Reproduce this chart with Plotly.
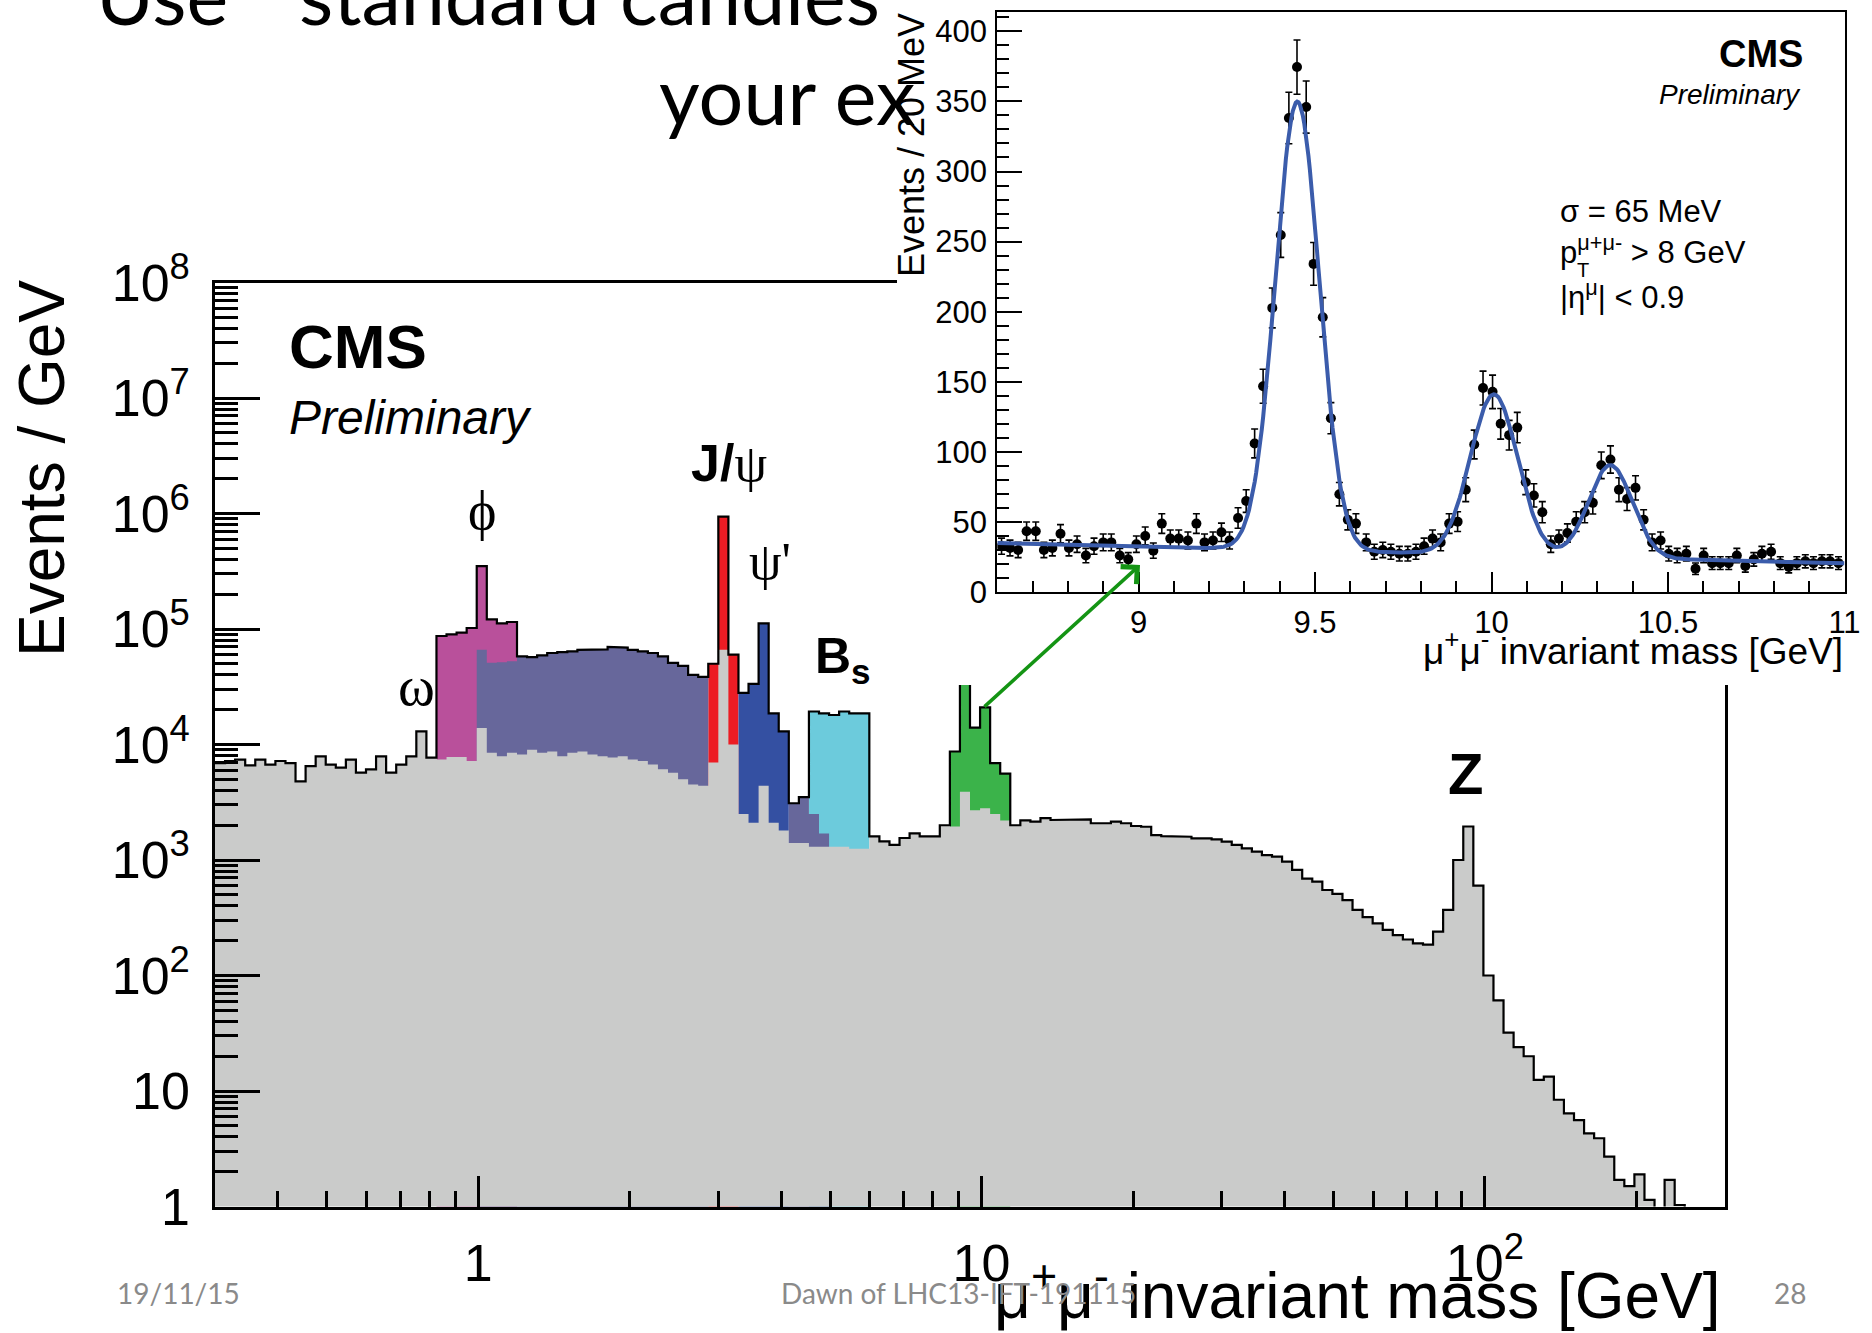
import numpy as np
import plotly.graph_objects as go

W, H = 1872, 1333


def px(x):
    return x / W


def py(y):
    return 1 - y / H


# ------------------------------------------------------------------
# Main di-muon spectrum  (Events / GeV), 50 log-bins per decade, 0.3-300 GeV
# ------------------------------------------------------------------
M_MIN, M_MAX, N_BINS = 0.3, 300.0, 150
mass_edges = np.logspace(np.log10(M_MIN), np.log10(M_MAX), N_BINS + 1)

total_per_gev = [
    6.9e3, 7.2e3, 7.4e3, 6.6e3, 7.4e3, 6.7e3, 7.2e3, 6.9e3, 4.8e3, 6.5e3,
    7.9e3, 6.7e3, 6.3e3, 7.4e3, 5.7e3, 6.1e3, 7.9e3, 5.7e3, 6.7e3, 7.9e3,
    1.3e4, 7.7e3, 8.7e4, 9.0e4, 9.3e4, 1.02e5, 3.5e5, 1.21e5, 1.12e5, 1.15e5,
    5.8e4, 5.7e4, 5.9e4, 6.2e4, 6.3e4, 6.4e4, 6.6e4, 6.65e4, 6.65e4, 7.0e4,
    6.9e4, 6.6e4, 6.4e4, 6.2e4, 5.8e4, 5.1e4, 4.8e4, 4.0e4, 3.85e4, 5.0e4,
    9.4e5, 6.0e4, 2.8e4, 3.35e4, 1.12e5, 1.86e4, 1.3e4, 3.1e3, 3.5e3, 1.93e4,
    1.86e4, 1.8e4, 1.93e4, 1.86e4, 1.86e4, 1.6e3, 1.45e3, 1.35e3, 1.55e3, 1.7e3,
    1.6e3, 1.6e3, 2.0e3, 8.7e3, 4.0e4, 1.4e4, 2.1e4, 6.9e3, 5.6e3, 2.0e3,
    2.2e3, 2.15e3, 2.3e3, 2.22e3, 2.22e3, 2.22e3, 2.25e3, 2.08e3, 2.08e3, 2.15e3,
    2.08e3, 1.97e3, 1.94e3, 1.64e3, 1.61e3, 1.61e3, 1.59e3, 1.54e3, 1.54e3, 1.51e3,
    1.44e3, 1.35e3, 1.26e3, 1.18e3, 1.10e3, 1.07e3, 970, 820, 690, 650,
    550, 510, 450, 370, 320, 283, 248, 224, 205, 190,
    185, 240, 370, 1.0e3, 1.95e3, 600, 100, 61, 32, 24,
    20, 12.5, 13.3, 8.4, 6.4, 5.6, 4.3, 3.9, 2.7, 1.7,
    1.5, 1.9, 1.14, 0, 1.7, 1.03, 0, 0, 0, 0,
]

# inclusive (grey) histogram where it lies below the total (inside trigger windows)
gray_inside_windows = {
    22: 7.4e3, 23: 7.8e3, 24: 7.8e3, 25: 7.2e3, 26: 1.39e4, 27: 8.5e3, 28: 7.9e3, 29: 8.5e3,
    30: 8.2e3, 31: 9.0e3, 32: 8.5e3, 33: 8.7e3, 34: 7.9e3, 35: 8.5e3, 36: 8.7e3, 37: 8.2e3,
    38: 7.9e3, 39: 7.7e3, 40: 7.9e3, 41: 7.4e3, 42: 7.2e3, 43: 6.7e3, 44: 6.1e3, 45: 5.7e3,
    46: 5.0e3, 47: 4.5e3, 48: 4.4e3, 49: 7.0e3, 50: 6.6e4, 51: 1.0e4, 52: 2.5e3, 53: 2.1e3,
    54: 4.4e3, 55: 2.1e3, 56: 1.8e3, 57: 1.4e3, 58: 1.4e3, 59: 1.3e3, 60: 1.3e3, 61: 1.3e3,
    62: 1.3e3, 63: 1.25e3, 64: 1.25e3,
    73: 1.95e3, 74: 3.9e3, 75: 2.7e3, 76: 2.8e3, 77: 2.5e3, 78: 2.2e3,
}

# trigger windows (bin indices); their tops follow the total unless listed
pink_bins = [22, 23, 24, 25, 26, 27, 28, 29]
red_bins = [49, 50, 51]
blue_bins = [52, 53, 54, 55, 56]
cyan_bins = [59, 60, 61, 62, 63, 64]
green_bins = [73, 74, 75, 76, 77, 78]
purple_bins = list(range(26, 49)) + [57, 58, 59, 60]
purple_below_total = {26: 6.6e4, 27: 5.1e4, 28: 5.15e4, 29: 5.25e4, 59: 2.5e3, 60: 1.7e3}

x_tick_vals = [1, 10, 100]
x_tick_text = ["1", "10", "10<sup>2</sup>"]
x_minor_vals = [0.4, 0.5, 0.6, 0.7, 0.8, 0.9, 2, 3, 4, 5, 6, 7, 8, 9,
                20, 30, 40, 50, 60, 70, 80, 90, 200]
y_tick_vals = [1, 10, 1e2, 1e3, 1e4, 1e5, 1e6, 1e7, 1e8]
y_tick_text = ["1", "10", "10<sup>2</sup>", "10<sup>3</sup>", "10<sup>4</sup>",
               "10<sup>5</sup>", "10<sup>6</sup>", "10<sup>7</sup>", "10<sup>8</sup>"]
y_minor_vals = [m * 10 ** k for k in range(8) for m in range(2, 10)]

# ------------------------------------------------------------------
# Inset: Upsilon region, Events / 20 MeV
# ------------------------------------------------------------------
ups_mass = [
    8.612, 8.636, 8.659, 8.683, 8.709, 8.732, 8.756, 8.779, 8.803, 8.826,
    8.851, 8.874, 8.900, 8.923, 8.947, 8.971, 8.994, 9.019, 9.042, 9.066,
    9.090, 9.114, 9.140, 9.164, 9.187, 9.211, 9.235, 9.258, 9.282, 9.305,
    9.329, 9.353, 9.379, 9.403, 9.426, 9.449, 9.475, 9.496, 9.522, 9.545,
    9.569, 9.593, 9.616, 9.645, 9.668, 9.692, 9.715, 9.739, 9.763, 9.786,
    9.809, 9.833, 9.856, 9.880, 9.904, 9.927, 9.951, 9.976, 10.003, 10.026,
    10.050, 10.073, 10.097, 10.120, 10.144, 10.168, 10.191, 10.215, 10.240, 10.264,
    10.287, 10.311, 10.337, 10.361, 10.384, 10.408, 10.431, 10.455, 10.479, 10.502,
    10.526, 10.552, 10.578, 10.601, 10.625, 10.648, 10.672, 10.695, 10.719, 10.743,
    10.766, 10.792, 10.818, 10.842, 10.865, 10.889, 10.912, 10.936, 10.959, 10.983,
]
ups_events = [
    32.7, 31.4, 30.0, 43.4, 43.4, 30.0, 31.4, 41.6, 31.4, 34.1,
    26.0, 32.7, 35.4, 35.4, 26.0, 23.3, 34.1, 40.0, 29.5, 48.8,
    38.1, 38.1, 36.7, 48.8, 35.4, 36.7, 42.6, 36.7, 52.8, 64.9,
    106.0, 146.8, 202.7, 254.7, 338.2, 374.5, 346.0, 234.1, 196.0, 124.0,
    69.8, 51.5, 48.8, 35.4, 28.7, 30.0, 28.7, 27.3, 27.3, 28.7,
    32.7, 38.1, 35.4, 48.8, 50.2, 73.0, 105.2, 145.5, 142.8, 120.0,
    111.9, 117.3, 78.3, 68.9, 56.9, 34.1, 38.1, 42.1, 50.2, 56.9,
    63.6, 90.4, 94.5, 73.0, 66.3, 74.3, 51.5, 35.4, 36.7, 27.3,
    26.0, 27.3, 16.6, 26.0, 20.6, 20.6, 20.6, 26.0, 18.5, 23.3,
    27.3, 28.7, 20.6, 17.9, 20.6, 21.9, 20.6, 21.9, 21.9, 20.6,
]
ups_errors = np.sqrt(ups_events)          # statistical (Poisson) errors

# fitted model: three Gaussians on a linear background
fit_means = [9.450, 10.007, 10.337]
fit_amplitudes = [320.0, 114.5, 66.0]
fit_sigmas = [0.062, 0.067, 0.062]
fit_background = [35.0, 20.5]            # at 8.6 GeV and at 11.0 GeV

inset_x_ticks = [9, 9.5, 10, 10.5, 11]
inset_x_text = ["9", "9.5", "10", "10.5", "11"]
inset_y_ticks = [0, 50, 100, 150, 200, 250, 300, 350, 400]

# ------------------------------------------------------------------
COL_GRAY = "#cacbca"
COL_PINK = "#b9509b"
COL_PURPLE = "#67679b"
COL_RED = "#ec1c24"
COL_BLUE = "#3450a2"
COL_CYAN = "#6ccbdc"
COL_GREEN = "#3bb34a"
FLOOR = 0.05

SANS = "Liberation Sans, Arial, Helvetica, sans-serif"
SERIF = "Liberation Serif, DejaVu Serif, serif"
SLIDE = "Lato, Open Sans, sans-serif"


def runs(bins):
    out, cur = [], [bins[0]]
    for b in bins[1:]:
        if b == cur[-1] + 1:
            cur.append(b)
        else:
            out.append(cur)
            cur = [b]
    out.append(cur)
    return out


def step_polygon(bins, tops):
    xs, ys = [mass_edges[bins[0]]], [FLOOR]
    for b in bins:
        t = tops[b] if tops[b] > 0 else FLOOR
        xs += [mass_edges[b], mass_edges[b + 1]]
        ys += [t, t]
    xs.append(mass_edges[bins[-1] + 1])
    ys.append(FLOOR)
    return xs, ys


fig = go.Figure()


def add_fill(bins, tops, color):
    for r in runs(bins):
        xs, ys = step_polygon(r, tops)
        fig.add_trace(go.Scatter(x=xs, y=ys, mode="lines", fill="toself",
                                 fillcolor=color, line=dict(width=0, color=color),
                                 hoverinfo="skip", showlegend=False,
                                 xaxis="x", yaxis="y"))


total = list(total_per_gev)
gray = [gray_inside_windows.get(i, v) for i, v in enumerate(total)]
purple_top = [purple_below_total.get(i, v) for i, v in enumerate(total)]

add_fill(pink_bins, total, COL_PINK)
add_fill(red_bins, total, COL_RED)
add_fill(blue_bins, total, COL_BLUE)
add_fill(cyan_bins, total, COL_CYAN)
add_fill(green_bins, total, COL_GREEN)
add_fill(purple_bins, purple_top, COL_PURPLE)
add_fill(list(range(N_BINS)), gray, COL_GRAY)

# total outline
ox, oy = [], []
for i, v in enumerate(total):
    t = v if v > 0 else FLOOR
    ox += [mass_edges[i], mass_edges[i + 1]]
    oy += [t, t]
fig.add_trace(go.Scatter(x=ox, y=oy, mode="lines", line=dict(color="black", width=2.2),
                         hoverinfo="skip", showlegend=False, xaxis="x", yaxis="y"))

# white mask subplot (the pasted inset picture hides the top-right of the main plot)
fig.add_trace(go.Scatter(x=[0.5], y=[0.5], mode="markers", marker=dict(opacity=0),
                         hoverinfo="skip", showlegend=False, xaxis="x2", yaxis="y2"))

# inset data
fig.add_trace(go.Scatter(x=ups_mass, y=ups_events, mode="markers",
                         marker=dict(color="black", size=10),
                         error_y=dict(type="data", array=ups_errors, color="black",
                                      thickness=1.6, width=3.5),
                         hoverinfo="skip", showlegend=False, xaxis="x3", yaxis="y3"))
mgrid = np.linspace(8.6, 11.0, 600)
fit_curve = fit_background[0] + (fit_background[1] - fit_background[0]) * (mgrid - 8.6) / 2.4
for mu, a, s in zip(fit_means, fit_amplitudes, fit_sigmas):
    fit_curve = fit_curve + a * np.exp(-0.5 * ((mgrid - mu) / s) ** 2)
fig.add_trace(go.Scatter(x=mgrid, y=fit_curve, mode="lines",
                         line=dict(color="#3b5cab", width=4),
                         hoverinfo="skip", showlegend=False, xaxis="x3", yaxis="y3"))

# ------------------------------------------------------------------
axis_common = dict(showline=True, linecolor="black", mirror=True, showgrid=False,
                   zeroline=False, ticks="inside", tickcolor="black", tickmode="array",
                   automargin=False)

fig.update_layout(
    width=W, height=H, autosize=False,
    margin=dict(l=0, r=0, t=0, b=0, pad=0, autoexpand=False),
    paper_bgcolor="white", plot_bgcolor="white",
    showlegend=False,
    xaxis=dict(axis_common, type="log", domain=[px(215), px(1725)], anchor="y",
               range=[np.log10(M_MIN), np.log10(M_MAX)], linewidth=2.5,
               tickvals=x_tick_vals, ticktext=x_tick_text, ticklen=31, tickwidth=2.5,
               tickfont=dict(family=SANS, size=52, color="black"), ticklabelstandoff=9,
               minor=dict(ticks="inside", ticklen=16, tickwidth=2.5, tickcolor="black",
                          tickmode="array", tickvals=x_minor_vals, showgrid=False)),
    yaxis=dict(axis_common, type="log", domain=[py(1206.5), py(282.5)], anchor="x",
               range=[0, 8], linewidth=2.5,
               tickvals=y_tick_vals, ticktext=y_tick_text, ticklen=45, tickwidth=2.5,
               tickfont=dict(family=SANS, size=52, color="black"), ticklabelstandoff=12,
               minor=dict(ticks="inside", ticklen=23, tickwidth=2.5, tickcolor="black",
                          tickmode="array", tickvals=y_minor_vals, showgrid=False)),
    xaxis2=dict(domain=[px(897), 1.0], anchor="y2", visible=False, range=[0, 1]),
    yaxis2=dict(domain=[py(685), 1.0], anchor="x2", visible=False, range=[0, 1]),
    xaxis3=dict(axis_common, domain=[px(997.3), px(1844.5)], anchor="y3",
                range=[8.6, 11.0], linewidth=2,
                tickvals=inset_x_ticks, ticktext=inset_x_text, ticklen=20, tickwidth=2,
                tickfont=dict(family=SANS, size=31, color="black"), ticklabelstandoff=2,
                minor=dict(ticks="inside", ticklen=11, tickwidth=2, tickcolor="black",
                           tickmode="linear", tick0=8.6, dtick=0.1, showgrid=False)),
    yaxis3=dict(axis_common, domain=[py(592), py(12)], anchor="x3",
                range=[0, 413.8], linewidth=2,
                tickvals=inset_y_ticks, ticktext=[str(v) for v in inset_y_ticks],
                ticklen=25, tickwidth=2,
                tickfont=dict(family=SANS, size=31, color="black"), ticklabelstandoff=2,
                minor=dict(ticks="inside", ticklen=12, tickwidth=2, tickcolor="black",
                           tickmode="linear", tick0=0, dtick=10, showgrid=False)),
)


def ann(text, x, y, size, family=SANS, xanchor="center", yanchor="middle",
        color="black", textangle=0):
    return dict(text=text, x=px(x), y=py(y), xref="paper", yref="paper",
                showarrow=False, font=dict(size=size, family=family, color=color),
                xanchor=xanchor, yanchor=yanchor, textangle=textangle)


MU2 = "μ<sup>+</sup>μ<sup>-</sup>"
annotations = [
    # slide title (partially hidden behind the inset picture)
    ann("Use", 94, -6, 79, SLIDE, xanchor="left"),
    ann("standard candles", 297, -6, 79, SLIDE, xanchor="left"),
    ann("your ex", 657, 94, 79, SLIDE, xanchor="left"),
    # main plot labels
    ann("<b>CMS</b>", 287, 347, 62, xanchor="left"),
    ann("<i>Preliminary</i>", 287, 417, 48, xanchor="left"),
    ann("ϕ", 482, 511, 54, SERIF),
    ann("ω", 416, 686, 56, SERIF),
    ann("<b>J/</b><span style=\"font-family:Liberation Serif\">ψ</span>", 729, 463, 52),
    ann("ψ'", 770, 561, 52, SERIF),
    ann("<b>B<sub>s</sub></b>", 813, 660, 50, xanchor="left"),
    ann("<b>Z</b>", 1465, 773, 58),
    ann("Events / GeV", 42, 469, 64, textangle=-90),
    ann(MU2 + " invariant mass [GeV]", 1723, 1291, 64, xanchor="right"),
    # inset labels
    ann("<b>CMS</b>", 1805, 54, 38, xanchor="right"),
    ann("<i>Preliminary</i>", 1803, 94, 28, xanchor="right"),
    ann("σ = 65 MeV", 1558, 211, 31, xanchor="left"),
    ann("p<sup>μ+μ-</sup> > 8 GeV", 1558, 250, 31, xanchor="left"),
    ann("T", 1583, 270, 20, xanchor="center"),
    ann("|η<sup>μ</sup>| < 0.9", 1558, 295, 31, xanchor="left"),
    ann("Events / 20 MeV", 911, 145, 36, textangle=-90),
    ann(MU2 + " invariant mass [GeV]", 1845, 648, 37, xanchor="right"),
    # footer
    ann("19/11/15", 115, 1293, 28, SLIDE, xanchor="left", color="#8a8a8a"),
    ann("Dawn of LHC13-IFT-191115", 959, 1293, 28, SLIDE, color="#8a8a8a"),
    ann("28", 1790, 1293, 28, SLIDE, color="#8a8a8a"),
    # green arrow from the Upsilon peak to the inset
    dict(text="", x=px(1140), y=py(565), xref="paper", yref="paper",
         ax=-157, ay=143, axref="pixel", ayref="pixel", showarrow=True,
         arrowhead=4, arrowsize=1.3, arrowwidth=3.5, arrowcolor="#149414", standoff=0),
]
fig.update_layout(annotations=annotations)

fig.write_html("out.html")
